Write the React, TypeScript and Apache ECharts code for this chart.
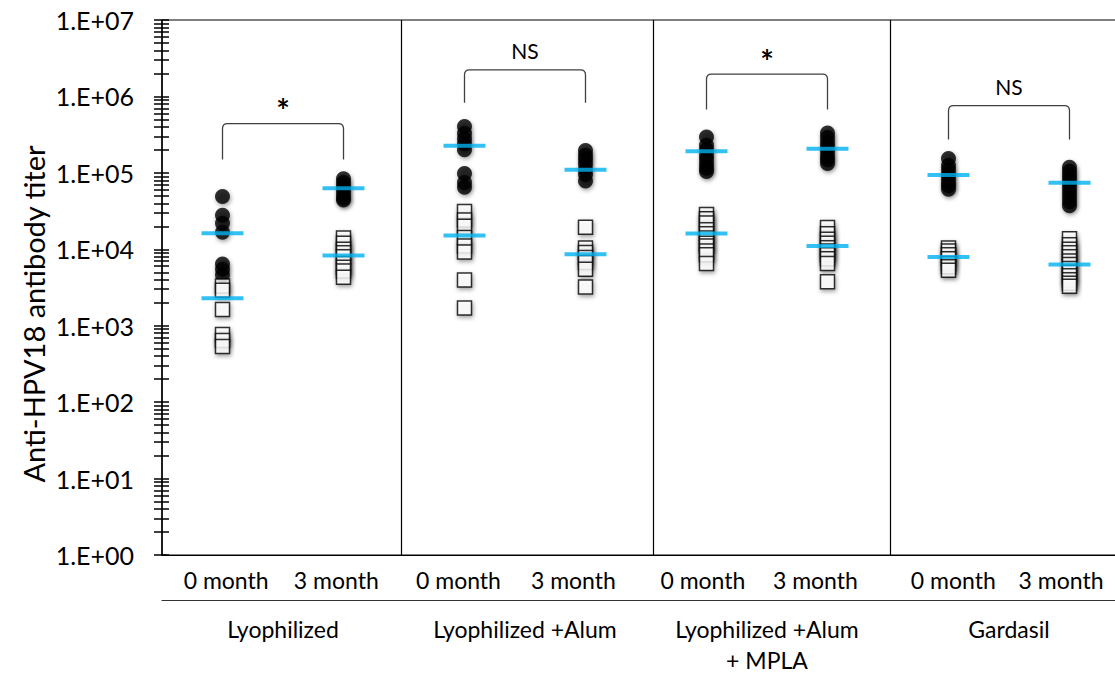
import React, { useEffect, useRef } from "react";
import * as echarts from "echarts";

// ---- data ----
const monthLabels = ["0 month", "3 month", "0 month", "3 month", "0 month", "3 month", "0 month", "3 month"];
const monthLabelPositions = [0.03, 0.94, 1.95, 2.9, 3.97, 4.9, 6.04, 6.93];
const groupNames = ["Lyophilized", "Lyophilized +Alum", "Lyophilized +Alum\n+ MPLA", "Gardasil"];
const groupCenters = [0.5, 2.5, 4.5, 6.5];
const dividerPositions = [1.48, 3.56, 5.52];
const yTickLabels = ["1.E+00", "1.E+01", "1.E+02", "1.E+03", "1.E+04", "1.E+05", "1.E+06", "1.E+07"];
const yMajorValues = [1, 10, 100, 1000, 10000, 100000, 1000000, 10000000];

// filled circles per column
const circleValues: number[][] = [
  [48900, 27900, 21900, 16700, 6400, 5500, 4600],
  [84000, 75000, 67000, 60000, 53000, 47000, 44000],
  [403000, 330000, 280000, 240000, 200000, 98000, 75000, 65000],
  [196000, 170000, 150000, 130000, 110000, 95000, 78000],
  [294000, 230000, 200000, 170000, 150000, 130000, 115000, 104000],
  [332000, 290000, 250000, 220000, 190000, 165000, 150000, 133000],
  [154000, 125000, 110000, 95000, 85000, 75000, 68000, 61000],
  [118000, 105000, 92000, 82000, 72000, 63000, 55000, 48000, 42000, 37000],
];
// open squares per column
const squareValues: number[][] = [
  [3300, 2900, 1630, 770, 640, 535],
  [14100, 12000, 10000, 9000, 8000, 6500, 5800, 5200, 4300],
  [31200, 24200, 20000, 14300, 11000, 9200, 3960, 1710],
  [19400, 10400, 9100, 7800, 6700, 5500, 3200],
  [28500, 25000, 22000, 18000, 16000, 14000, 12000, 11000, 9500, 8500, 6500],
  [19300, 16000, 13500, 12000, 10500, 9500, 8500, 7500, 6500, 3770],
  [10400, 9500, 8500, 7500, 6500, 5900, 5300],
  [13700, 11500, 10000, 9000, 8000, 7000, 6300, 5600, 5000, 4500, 4000, 3600, 3280],
];
const circleMeans = [16200, 62700, 226000, 110000, 192000, 207000, 93500, 74400];
const squareMeans = [2290, 8300, 15200, 8600, 16100, 11000, 7900, 6300];

// significance brackets: [fromColumn, toColumn, topValue, bottomValue]
const bracketFrom = [0, 2, 4, 6];
const bracketTo = [1, 3, 5, 7];
const bracketTop = [441000, 2230000, 1960000, 757000];
const bracketBottom = [150000, 828000, 672000, 273000];
const bracketLabels = ["*", "NS", "*", "NS"];

const FONT = "Lato, 'Noto Sans', sans-serif";

export default function App() {
  const ref = useRef<HTMLDivElement>(null);
  useEffect(() => {
    document.body.style.margin = "0";
    if (!ref.current) return;
    const chart = echarts.init(ref.current, null, { renderer: "svg" });

    const tickValues: number[] = [];
    yMajorValues.forEach((m, i) => {
      if (i === yMajorValues.length - 1) {
        tickValues.push(m);
      } else {
        for (let k = 1; k <= 9; k++) tickValues.push(k * m);
      }
    });

    const circleData: number[][] = [];
    circleValues.forEach((col, i) => col.forEach((v) => circleData.push([i, v])));
    const squareData: number[][] = [];
    squareValues.forEach((col, i) => col.forEach((v) => squareData.push([i, v])));
    const meanData: number[][] = [];
    circleMeans.forEach((v, i) => meanData.push([i, v]));
    squareMeans.forEach((v, i) => meanData.push([i, v]));

    const shadow = {
      shadowBlur: 4,
      shadowColor: "rgba(0,0,0,0.45)",
      shadowOffsetX: 1,
      shadowOffsetY: 2,
    };

    chart.setOption({
      animation: false,
      backgroundColor: "#fff",
      textStyle: { fontFamily: FONT },
      grid: {
        left: 162,
        top: 20,
        right: 0,
        bottom: 118,
        show: true,
        borderColor: "#000",
        borderWidth: 1,
      },
      xAxis: [
        {
          type: "value",
          min: -0.5,
          max: 7.5,
          position: "bottom",
          axisLine: { show: true, onZero: false, lineStyle: { color: "#000", width: 1 } },
          axisTick: { show: false },
          splitLine: { show: false },
          axisLabel: {
            customValues: monthLabelPositions,
            formatter: (v: number) => {
              const idx = monthLabelPositions.findIndex((c) => Math.abs(c - v) < 1e-6);
              return idx >= 0 ? monthLabels[idx] : "";
            },
            color: "#000",
            fontSize: 23,
            fontFamily: FONT,
            margin: 13,
          },
        },
        {
          type: "value",
          min: -0.5,
          max: 7.5,
          position: "bottom",
          offset: 45,
          axisLine: { show: true, onZero: false, lineStyle: { color: "#333", width: 1.2 } },
          axisTick: { show: false },
          splitLine: { show: false },
          axisLabel: {
            customValues: groupCenters,
            formatter: (v: number) => {
              const idx = groupCenters.findIndex((c) => Math.abs(c - v) < 1e-6);
              return idx >= 0 ? groupNames[idx] : "";
            },
            color: "#000",
            fontSize: 23,
            fontFamily: FONT,
            lineHeight: 31,
            margin: 13,
            verticalAlign: "top",
          },
        },
      ],
      yAxis: [
        {
          type: "log",
          logBase: 10,
          min: 1,
          max: 10000000,
          position: "left",
          axisLine: { show: true, onZero: false, lineStyle: { color: "#000", width: 1.5 } },
          axisTick: {
            show: true,
            inside: false,
            length: 8,
            customValues: tickValues,
            lineStyle: { color: "#000", width: 1.5 },
          },
          minorTick: { show: false },
          splitLine: { show: false },
          axisLabel: {
            customValues: yMajorValues,
            formatter: (v: number) => yTickLabels[Math.round(Math.log10(v))] ?? "",
            color: "#000",
            fontSize: 25,
            fontFamily: FONT,
            margin: 28,
          },
        },
        {
          type: "log",
          logBase: 10,
          min: 1,
          max: 10000000,
          position: "left",
          axisLine: { show: false, onZero: false },
          axisTick: {
            show: true,
            inside: true,
            length: 7,
            customValues: tickValues,
            lineStyle: { color: "#000", width: 1.5 },
          },
          minorTick: { show: false },
          splitLine: { show: false },
          axisLabel: { show: false },
        },
      ],
      graphic: [
        {
          type: "text",
          x: 33,
          y: 314,
          rotation: Math.PI / 2,
          style: {
            text: "Anti-HPV18 antibody titer",
            fontSize: 29,
            fontFamily: FONT,
            fill: "#000",
            align: "center",
            verticalAlign: "middle",
          },
        },
      ],
      series: [
        {
          type: "scatter",
          name: "dividers",
          xAxisIndex: 0,
          yAxisIndex: 0,
          data: [],
          markLine: {
            silent: true,
            symbol: "none",
            label: { show: false },
            lineStyle: { color: "#000", width: 1.2, type: "solid" },
            data: dividerPositions.map((x) => ({ xAxis: x })),
          },
        },
        {
          type: "scatter",
          name: "circles",
          xAxisIndex: 0,
          yAxisIndex: 0,
          symbol: "circle",
          symbolSize: 15,
          itemStyle: { color: "#000", ...shadow },
          data: circleData,
          z: 2,
        },
        {
          type: "scatter",
          name: "squares",
          xAxisIndex: 0,
          yAxisIndex: 0,
          symbol: "rect",
          symbolSize: 14,
          itemStyle: { color: "#fff", borderColor: "#000", borderWidth: 1.5, ...shadow },
          data: squareData,
          z: 3,
        },
        {
          type: "scatter",
          name: "means",
          xAxisIndex: 0,
          yAxisIndex: 0,
          symbol: "rect",
          symbolSize: [42, 4],
          itemStyle: { color: "#00B0F0" },
          data: meanData,
          z: 4,
        },
        {
          type: "custom",
          name: "brackets",
          xAxisIndex: 0,
          yAxisIndex: 0,
          encode: { x: [0, 1], y: [2, 3] },
          data: bracketFrom.map((f, i) => [f, bracketTo[i], bracketTop[i], bracketBottom[i]]),
          z: 5,
          renderItem: (params: any, api: any) => {
            const tl = api.coord([api.value(0), api.value(2)]);
            const tr = api.coord([api.value(1), api.value(2)]);
            const bl = api.coord([api.value(0), api.value(3)]);
            const r = 5;
            const d =
              `M ${bl[0]} ${bl[1]} L ${tl[0]} ${tl[1] + r} Q ${tl[0]} ${tl[1]} ${tl[0] + r} ${tl[1]} ` +
              `L ${tr[0] - r} ${tr[1]} Q ${tr[0]} ${tr[1]} ${tr[0]} ${tr[1] + r} L ${tr[0]} ${bl[1]}`;
            const label = bracketLabels[params.dataIndex];
            const isStar = label === "*";
            return {
              type: "group",
              children: [
                {
                  type: "path",
                  shape: { pathData: d },
                  style: { stroke: "#404040", lineWidth: 1.3, fill: "none" },
                },
                {
                  type: "text",
                  x: (tl[0] + tr[0]) / 2,
                  y: tl[1] - (isStar ? 13 : 19),
                  style: {
                    text: label,
                    fontSize: isStar ? 32 : 21,
                    fontWeight: isStar ? "bold" : "normal",
                    fontFamily: FONT,
                    fill: "#000",
                    align: "center",
                    verticalAlign: "middle",
                  },
                },
              ],
            };
          },
        },
      ],
    });
    return () => chart.dispose();
  }, []);
  return (
    <div style={{ width: 1115, height: 675, overflow: "hidden" }}>
      <div ref={ref} style={{ width: 1130, height: 675 }} />
    </div>
  );
}
